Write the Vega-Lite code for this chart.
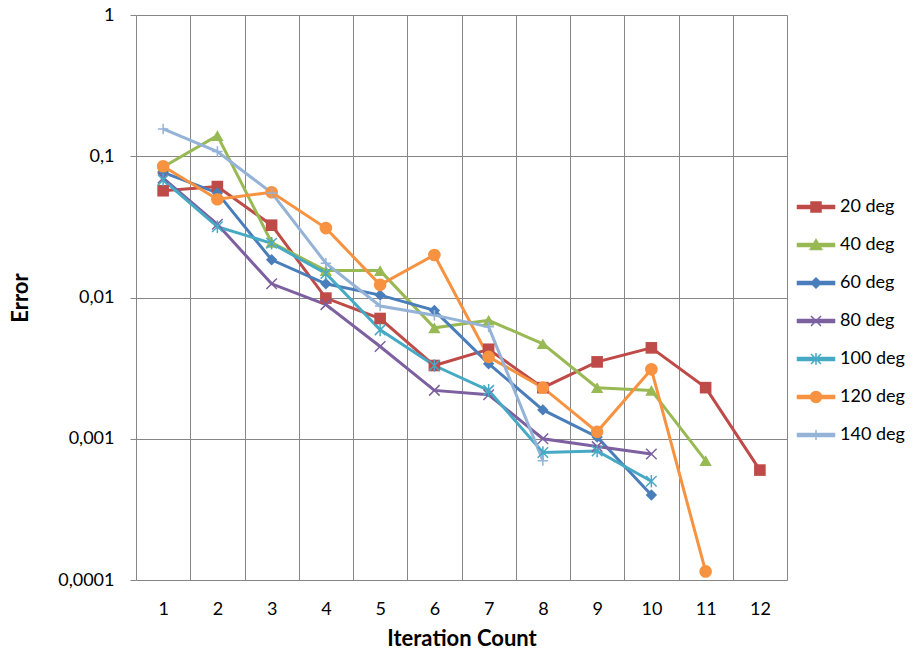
{
  "$schema": "https://vega.github.io/schema/vega-lite/v6.json",
  "width": 651,
  "height": 565,
  "autosize": "none",
  "padding": {"left": 136, "top": 15, "right": 126, "bottom": 72},
  "background": "white",
  "config": {
    "font": "Lato",
    "view": {"stroke": null},
    "axis": {
      "gridColor": "#868686",
      "gridWidth": 1,
      "gridOpacity": 1,
      "tickColor": "#868686",
      "domain": false,
      "labelFont": "Lato",
      "labelFontSize": 18,
      "labelColor": "#000000",
      "titleFont": "Lato",
      "titleColor": "#000000",
      "titleFontWeight": "bold"
    },
    "legend": {
      "labelFont": "Lato",
      "labelFontSize": 18,
      "labelColor": "#000000",
      "title": null,
      "orient": "none",
      "legendX": 671,
      "legendY": 183,
      "rowPadding": 20,
      "symbolSize": 100,
      "symbolStrokeWidth": 1.5,
      "labelOffset": 15
    }
  },
  "params": [
    {"name": "legendShapes", "value": {
      "20 deg": "M-3.7,-0.3L3.7,-0.3L3.7,0.3L-3.7,0.3ZM-1,-1L1,-1L1,1L-1,1Z",
      "40 deg": "M-3.7,-0.3L3.7,-0.3L3.7,0.3L-3.7,0.3ZM0,-1.1L1.15,0.9L-1.15,0.9Z",
      "60 deg": "M-3.7,-0.3L3.7,-0.3L3.7,0.3L-3.7,0.3ZM0,-1L1,0L0,1L-1,0Z",
      "80 deg": "M-3.7,-0.3L3.7,-0.3L3.7,0.3L-3.7,0.3ZM-1,-1L1,1M-1,1L1,-1",
      "100 deg": "M-3.7,-0.3L3.7,-0.3L3.7,0.3L-3.7,0.3ZM-1,-1L1,1M-1,1L1,-1M0,-1.2L0,1.2",
      "120 deg": "M-3.7,-0.3L3.7,-0.3L3.7,0.3L-3.7,0.3ZM-1.1,0A1.1,1.1,0,1,1,1.1,0A1.1,1.1,0,1,1,-1.1,0Z",
      "140 deg": "M-3.7,-0.3L3.7,-0.3L3.7,0.3L-3.7,0.3ZM0,-1L0,1"
    }}
  ],
  "data": {
    "values": [
      {"series": "20 deg", "iter": 1, "error": 0.057},
      {"series": "20 deg", "iter": 2, "error": 0.061},
      {"series": "20 deg", "iter": 3, "error": 0.0325},
      {"series": "20 deg", "iter": 4, "error": 0.0099},
      {"series": "20 deg", "iter": 5, "error": 0.0071},
      {"series": "20 deg", "iter": 6, "error": 0.0033},
      {"series": "20 deg", "iter": 7, "error": 0.0043},
      {"series": "20 deg", "iter": 8, "error": 0.0023},
      {"series": "20 deg", "iter": 9, "error": 0.0035},
      {"series": "20 deg", "iter": 10, "error": 0.0044},
      {"series": "20 deg", "iter": 11, "error": 0.0023},
      {"series": "20 deg", "iter": 12, "error": 0.0006},
      {"series": "40 deg", "iter": 1, "error": 0.084},
      {"series": "40 deg", "iter": 2, "error": 0.14},
      {"series": "40 deg", "iter": 3, "error": 0.0245},
      {"series": "40 deg", "iter": 4, "error": 0.0155},
      {"series": "40 deg", "iter": 5, "error": 0.0155},
      {"series": "40 deg", "iter": 6, "error": 0.0061},
      {"series": "40 deg", "iter": 7, "error": 0.0069},
      {"series": "40 deg", "iter": 8, "error": 0.0047},
      {"series": "40 deg", "iter": 9, "error": 0.0023},
      {"series": "40 deg", "iter": 10, "error": 0.0022},
      {"series": "40 deg", "iter": 11, "error": 0.0007},
      {"series": "60 deg", "iter": 1, "error": 0.077},
      {"series": "60 deg", "iter": 2, "error": 0.055},
      {"series": "60 deg", "iter": 3, "error": 0.0185},
      {"series": "60 deg", "iter": 4, "error": 0.0125},
      {"series": "60 deg", "iter": 5, "error": 0.0104},
      {"series": "60 deg", "iter": 6, "error": 0.0081},
      {"series": "60 deg", "iter": 7, "error": 0.0034},
      {"series": "60 deg", "iter": 8, "error": 0.0016},
      {"series": "60 deg", "iter": 9, "error": 0.00103},
      {"series": "60 deg", "iter": 10, "error": 0.0004},
      {"series": "80 deg", "iter": 1, "error": 0.07},
      {"series": "80 deg", "iter": 2, "error": 0.033},
      {"series": "80 deg", "iter": 3, "error": 0.0125},
      {"series": "80 deg", "iter": 4, "error": 0.0089},
      {"series": "80 deg", "iter": 5, "error": 0.0045},
      {"series": "80 deg", "iter": 6, "error": 0.0022},
      {"series": "80 deg", "iter": 7, "error": 0.00205},
      {"series": "80 deg", "iter": 8, "error": 0.001},
      {"series": "80 deg", "iter": 9, "error": 0.00088},
      {"series": "80 deg", "iter": 10, "error": 0.00078},
      {"series": "100 deg", "iter": 1, "error": 0.068},
      {"series": "100 deg", "iter": 2, "error": 0.0317},
      {"series": "100 deg", "iter": 3, "error": 0.0242},
      {"series": "100 deg", "iter": 4, "error": 0.0148},
      {"series": "100 deg", "iter": 5, "error": 0.0059},
      {"series": "100 deg", "iter": 6, "error": 0.0033},
      {"series": "100 deg", "iter": 7, "error": 0.0022},
      {"series": "100 deg", "iter": 8, "error": 0.0008},
      {"series": "100 deg", "iter": 9, "error": 0.00082},
      {"series": "100 deg", "iter": 10, "error": 0.0005},
      {"series": "120 deg", "iter": 1, "error": 0.085},
      {"series": "120 deg", "iter": 2, "error": 0.0496},
      {"series": "120 deg", "iter": 3, "error": 0.0556},
      {"series": "120 deg", "iter": 4, "error": 0.031},
      {"series": "120 deg", "iter": 5, "error": 0.0123},
      {"series": "120 deg", "iter": 6, "error": 0.02},
      {"series": "120 deg", "iter": 7, "error": 0.0038},
      {"series": "120 deg", "iter": 8, "error": 0.0023},
      {"series": "120 deg", "iter": 9, "error": 0.00112},
      {"series": "120 deg", "iter": 10, "error": 0.0031},
      {"series": "120 deg", "iter": 11, "error": 0.000115},
      {"series": "140 deg", "iter": 1, "error": 0.156},
      {"series": "140 deg", "iter": 2, "error": 0.108},
      {"series": "140 deg", "iter": 3, "error": 0.055},
      {"series": "140 deg", "iter": 4, "error": 0.0175},
      {"series": "140 deg", "iter": 5, "error": 0.0087},
      {"series": "140 deg", "iter": 6, "error": 0.0075},
      {"series": "140 deg", "iter": 7, "error": 0.0062},
      {"series": "140 deg", "iter": 8, "error": 0.0007}
    ]
  },
  "encoding": {
    "x": {
      "field": "iter",
      "type": "ordinal",
      "scale": {"type": "band", "paddingInner": 0, "paddingOuter": 0},
      "axis": {
        "title": "Iteration Count",
        "titleFontSize": 22,
        "titlePadding": 10,
        "labelAngle": 0,
        "labelPadding": 20,
        "tickBand": "extent",
        "ticks": false,
        "grid": true
      }
    },
    "y": {
      "field": "error",
      "type": "quantitative",
      "scale": {"type": "log", "domain": [0.0001, 1], "nice": false},
      "axis": {
        "title": "Error",
        "titleFontSize": 22,
        "titlePadding": 25,
        "values": [0.0001, 0.001, 0.01, 0.1, 1],
        "labelExpr": "replace(format(datum.value, '~f'), '.', ',')",
        "tickSize": 6,
        "labelPadding": 16,
        "grid": true
      }
    },
    "color": {
      "field": "series",
      "type": "nominal",
      "scale": {
        "domain": ["20 deg", "40 deg", "60 deg", "80 deg", "100 deg", "120 deg", "140 deg"],
        "range": ["#BE4B48", "#98B954", "#4A7EBB", "#7D60A0", "#46AAC5", "#F69240", "#95B3D7"]
      },
      "legend": {
        "encode": {
          "symbols": {
            "update": {
              "shape": {"signal": "legendShapes[datum.value]"},
              "fill": {"scale": "color", "field": "value"},
              "stroke": {"scale": "color", "field": "value"},
              "strokeWidth": {"value": 1.5},
              "opacity": {"value": 1}
            }
          }
        }
      }
    }
  },
  "layer": [
    {
      "mark": {"type": "line", "strokeWidth": 3}
    },
    {
      "transform": [{"filter": {"field": "series", "equal": "20 deg"}}],
      "mark": {"type": "point", "shape": "square", "filled": true, "opacity": 1, "size": 135}
    },
    {
      "transform": [{"filter": {"field": "series", "equal": "40 deg"}}],
      "mark": {"type": "point", "shape": "triangle-up", "filled": true, "opacity": 1, "size": 150}
    },
    {
      "transform": [{"filter": {"field": "series", "equal": "60 deg"}}],
      "mark": {"type": "point", "shape": "diamond", "filled": true, "opacity": 1, "size": 130}
    },
    {
      "transform": [{"filter": {"field": "series", "equal": "80 deg"}}],
      "mark": {"type": "point", "shape": "M-1,-1L1,1M-1,1L1,-1", "filled": false, "opacity": 1, "strokeWidth": 1.5, "size": 110}
    },
    {
      "transform": [{"filter": {"field": "series", "equal": "100 deg"}}],
      "mark": {"type": "point", "shape": "M-1,-1L1,1M-1,1L1,-1M0,-1.2L0,1.2", "filled": false, "opacity": 1, "strokeWidth": 1.5, "size": 110}
    },
    {
      "transform": [{"filter": {"field": "series", "equal": "120 deg"}}],
      "mark": {"type": "point", "shape": "circle", "filled": true, "opacity": 1, "size": 160}
    },
    {
      "transform": [{"filter": {"field": "series", "equal": "140 deg"}}],
      "mark": {"type": "point", "shape": "M-1,0L1,0M0,-1L0,1", "filled": false, "opacity": 1, "strokeWidth": 1.5, "size": 110}
    }
  ]
}
